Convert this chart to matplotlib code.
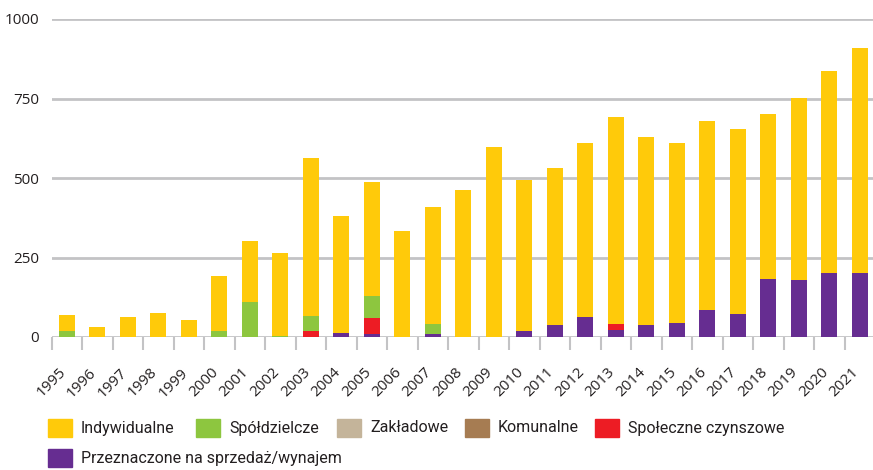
import matplotlib
matplotlib.use("Agg")
import matplotlib.pyplot as plt
from matplotlib.patches import Rectangle
from matplotlib.transforms import ScaledTranslation
import numpy as np

years = [str(y) for y in range(1995, 2022)]

indywidualne = [50, 31, 63, 75, 53, 173, 192, 260, 497, 368, 358, 333, 368, 462, 598,
                476, 495, 548, 652, 593, 567, 595, 583, 520, 574, 634, 707]
spoldzielcze = [19, 0, 0, 0, 0, 19, 110, 4, 47, 0, 69, 0, 32, 0, 0,
                0, 0, 0, 0, 0, 0, 0, 0, 0, 0, 0, 0]
zakladowe = [0] * 27
komunalne = [0] * 27
spoleczne = [0, 0, 0, 0, 0, 0, 0, 0, 19, 0, 51, 0, 0, 0, 0,
             0, 0, 0, 19, 0, 0, 0, 0, 0, 0, 0, 0]
przeznaczone = [0, 0, 0, 0, 0, 0, 0, 0, 0, 13, 9, 0, 9, 0, 0,
                18, 37, 63, 22, 37, 44, 85, 72, 182, 179, 201, 201]

yticks = [0, 250, 500, 750, 1000]

# stacking order bottom -> top
stack = [
    ("Przeznaczone na sprzedaż/wynajem", przeznaczone, "#662D91"),
    ("Społeczne czynszowe", spoleczne, "#ED1C24"),
    ("Komunalne", komunalne, "#A67C52"),
    ("Zakładowe", zakladowe, "#C4B49A"),
    ("Spółdzielcze", spoldzielcze, "#8DC63F"),
    ("Indywidualne", indywidualne, "#FFCA0A"),
]
legend_order = ["Indywidualne", "Spółdzielcze", "Zakładowe", "Komunalne",
                "Społeczne czynszowe", "Przeznaczone na sprzedaż/wynajem"]

W, H = 873, 470
fig = plt.figure(figsize=(W / 100, H / 100), dpi=100)
ax = fig.add_axes([51.5 / W, 1 - 337 / H, 1 - 51.5 / W, (337 - 19) / H])

x = np.arange(len(years))
bottom = np.zeros(len(years))
colors = {}
for name, vals, col in stack:
    v = np.array(vals, dtype=float)
    ax.bar(x, v, bottom=bottom, width=0.52, color=col, zorder=3, linewidth=0)
    bottom += v
    colors[name] = col

grid_col = "#C3C3C5"
ax.set_ylim(0, 1000)
ax.set_xlim(-0.5, 26.43)
ax.set_yticks(yticks)
ax.set_yticklabels([str(t) for t in yticks])
for t in yticks:
    ax.axhline(t, color=grid_col, lw=2.0, zorder=1)
for s in ax.spines.values():
    s.set_visible(False)

ax.set_xticks(x)
ax.set_xticklabels(years, rotation=45, ha="right", va="center", rotation_mode="anchor")
ax.set_xticks(np.arange(-0.5, 26.5, 1.0), minor=True)
ax.tick_params(axis="x", which="major", length=0, pad=24, labelsize=11,
               labelcolor="#231F20", labelfontfamily="Open Sans")
ax.tick_params(axis="x", which="minor", length=9.5, width=1.5, color=grid_col)
ax.tick_params(axis="y", length=0, pad=9, labelsize=11, labelcolor="#231F20",
               labelfontfamily="Open Sans")
off = ScaledTranslation(-3 / 100, 0, fig.dpi_scale_trans)
for lab in ax.get_xticklabels():
    lab.set_transform(lab.get_transform() + off)

# legend (manual layout)
leg_pos = {
    "Indywidualne": (48, 428),
    "Spółdzielcze": (196, 428),
    "Zakładowe": (337, 428),
    "Komunalne": (465, 428),
    "Społeczne czynszowe": (595, 428),
    "Przeznaczone na sprzedaż/wynajem": (48, 458),
}
sw, sh = 24, 18
for name in legend_order:
    px, py = leg_pos[name]
    fig.patches.append(Rectangle((px / W, 1 - (py + sh / 2) / H), sw / W, sh / H,
                                 transform=fig.transFigure, color=colors[name]))
    fig.text((px + sw + 9) / W, 1 - py / H, name, ha="left", va="center",
             fontsize=11.5, color="#231F20", family="Roboto")

fig.savefig("out.png", dpi=100)
